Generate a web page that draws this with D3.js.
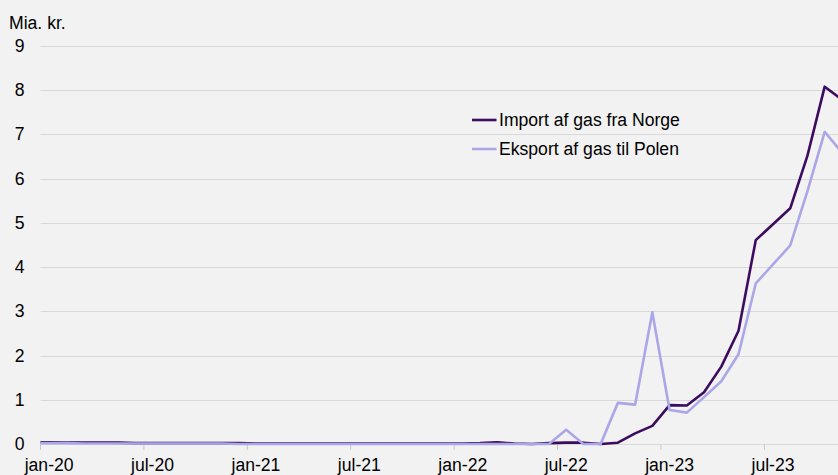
<!DOCTYPE html>
<html>
<head>
<meta charset="utf-8">
<script src="https://cdn.jsdelivr.net/npm/d3@7"></script>
<style>
  body { margin: 0; background: #f2f2f2; }
  svg { display: block; font-family: "Liberation Sans", Arial, sans-serif; }
</style>
</head>
<body>
<svg id="chart"></svg>
<script>
// Data - monthly, dec-19 .. nov-23 (mia. kr.)
const months = ["dec-19",
  "jan-20","feb-20","mar-20","apr-20","maj-20","jun-20","jul-20","aug-20","sep-20","okt-20","nov-20","dec-20",
  "jan-21","feb-21","mar-21","apr-21","maj-21","jun-21","jul-21","aug-21","sep-21","okt-21","nov-21","dec-21",
  "jan-22","feb-22","mar-22","apr-22","maj-22","jun-22","jul-22","aug-22","sep-22","okt-22","nov-22","dec-22",
  "jan-23","feb-23","mar-23","apr-23","maj-23","jun-23","jul-23","aug-23","sep-23","okt-23","nov-23"];
const importNorge = [0.04,
  0.04,0.03,0.03,0.03,0.03,0.02,0.02,0.02,0.02,0.02,0.02,0.02,
  0.01,0.01,0.01,0.01,0.01,0.01,0.01,0.01,0.01,0.01,0.01,0.01,
  0.01,0.02,0.04,0.01,0.0,0.02,0.03,0.03,0.0,0.03,0.24,0.41,
  0.88,0.87,1.17,1.75,2.56,4.61,4.97,5.33,6.52,8.08,7.79];
const eksportPolen = [0.02,
  0.02,0.02,0.01,0.01,0.01,0.01,0.01,0.01,0.01,0.01,0.01,0.0,
  0.0,0.0,0.0,0.0,0.0,0.0,0.0,0.0,0.0,0.0,0.0,0.0,
  0.0,0.0,0.0,0.0,0.0,0.0,0.32,0.0,0.0,0.93,0.89,2.98,
  0.77,0.71,1.06,1.42,2.03,3.63,4.06,4.49,5.72,7.06,6.59];
const seriesNames = ["Import af gas fra Norge", "Eksport af gas til Polen"];
const tickLabels = ["jan-20","jul-20","jan-21","jul-21","jan-22","jul-22","jan-23","jul-23"];
const yTicks = [0,1,2,3,4,5,6,7,8,9];

const width = 838;
const height = 475;
const left = 40.5;
const monthW = 17.235;
const fontSize = 17.6;
const colors = ["#3d0c5e", "#aba7e6"];

const svg = d3.select("#chart")
    .attr("width", width)
    .attr("height", height);

// Skalaer
const x = d3.scaleBand()
    .domain(months)
    .range([left - monthW, left - monthW + months.length * monthW])
    .padding(0);
const y = d3.scaleLinear()
    .domain([0, 9])
    .range([444, 46]);

// Gitterlinjer
svg.append("g")
    .selectAll("line")
    .data(yTicks.slice(1))
    .join("line")
    .attr("x1", left)
    .attr("x2", width)
    .attr("y1", d => Math.round(y(d)) + 0.5)
    .attr("y2", d => Math.round(y(d)) + 0.5)
    .attr("stroke", "#d9d9d9")
    .attr("stroke-width", 1);

// Y-akse labels
svg.append("g")
    .selectAll("text")
    .data(yTicks)
    .join("text")
    .attr("x", 24.5)
    .attr("y", d => y(d) + 6)
    .attr("text-anchor", "end")
    .attr("font-size", fontSize)
    .attr("fill", "#000")
    .text(d => d);

svg.append("text")
    .attr("x", 9)
    .attr("y", 29)
    .attr("font-size", fontSize)
    .text("Mia. kr.");

// X-akse: akselinje, tick marks og labels
svg.append("line")
    .attr("x1", left)
    .attr("x2", width)
    .attr("y1", 444.5)
    .attr("y2", 444.5)
    .attr("stroke", "#d9d9d9");

const xTicks = svg.append("g")
    .selectAll("g")
    .data(tickLabels)
    .join("g")
    .attr("transform", d => `translate(${x(d)},0)`);
xTicks.append("line")
    .attr("y1", 444)
    .attr("y2", 450)
    .attr("stroke", "#c8c8c8");
xTicks.append("text")
    .attr("x", x.bandwidth() / 2)
    .attr("y", 470.5)
    .attr("text-anchor", "middle")
    .attr("font-size", fontSize)
    .text(d => d);

// Linjer
svg.append("clipPath")
    .attr("id", "plot")
    .append("rect")
    .attr("x", left)
    .attr("y", 0)
    .attr("width", width - left)
    .attr("height", height);

const line = d3.line()
    .x((d, i) => x(months[i]) + x.bandwidth() / 2)
    .y(d => y(d));

[importNorge, eksportPolen].forEach((s, k) => {
    svg.append("path")
        .datum(s)
        .attr("clip-path", "url(#plot)")
        .attr("fill", "none")
        .attr("stroke", colors[k])
        .attr("stroke-width", 2.6)
        .attr("stroke-linejoin", "round")
        .attr("d", line);
});

// Legend
const legend = svg.append("g")
    .selectAll("g")
    .data(seriesNames)
    .join("g")
    .attr("transform", (d, i) => `translate(472,${120 + i * 29})`);
legend.append("line")
    .attr("x1", 0)
    .attr("x2", 24.5)
    .attr("stroke", (d, i) => colors[i])
    .attr("stroke-width", 2.6);
legend.append("text")
    .attr("x", 27)
    .attr("y", 6)
    .attr("font-size", fontSize)
    .text(d => d);
</script>
</body>
</html>
